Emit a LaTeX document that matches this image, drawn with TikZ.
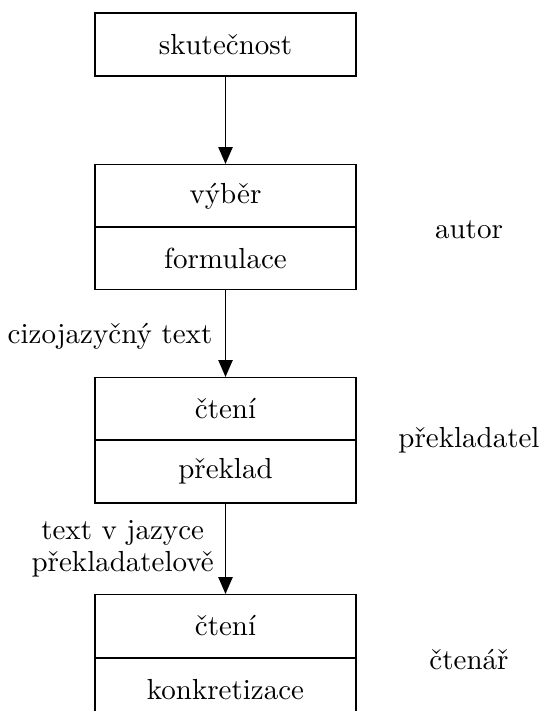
\documentclass[tikz,border=0pt]{standalone}
\usetikzlibrary{arrows.meta}
\begin{document}
\begin{tikzpicture}[x=0.3448pt,y=-0.3448pt,
  box/.style={draw,line width=0.5pt,minimum width=90pt,minimum height=21.6pt,inner sep=0pt,font=\normalsize},
  conn/.style={draw,line width=0.5pt,-{Triangle[length=5.8pt,width=4.9pt]}},
  side/.style={inner sep=0pt}]
\useasboundingbox (0,0) rectangle (541,711);
\node[box] (real) at (225.5,44.5) {skutečnost};
\node[box] (sel) at (225.5,196) {výběr};
\node[box] (form) at (225.5,258) {formulace};
\node[box] (read1) at (225.5,409) {čtení};
\node[box] (trans) at (225.5,471.5) {překlad};
\node[box] (read2) at (225.5,626) {čtení};
\node[box] (concr) at (225.5,690) {konkretizace};
\node[side] (autor) at (469,230) {autor};
\node[side] (prekl) at (469,440) {překladatel};
\node[side] (ctenar) at (469,660) {čtenář};
\draw[conn] (real.south) -- (sel.north);
\draw[conn] (form.south) -- node[side,anchor=east,xshift=-4.3pt,yshift=-1pt] {cizojazyčný text} (read1.north);
\draw[conn] (trans.south) -- node[side,anchor=east,align=center,xshift=-3.8pt,yshift=0pt,font=\fontsize{10}{10.8}\selectfont] {text v jazyce\\překladatelově} (read2.north);
\end{tikzpicture}
\end{document}
